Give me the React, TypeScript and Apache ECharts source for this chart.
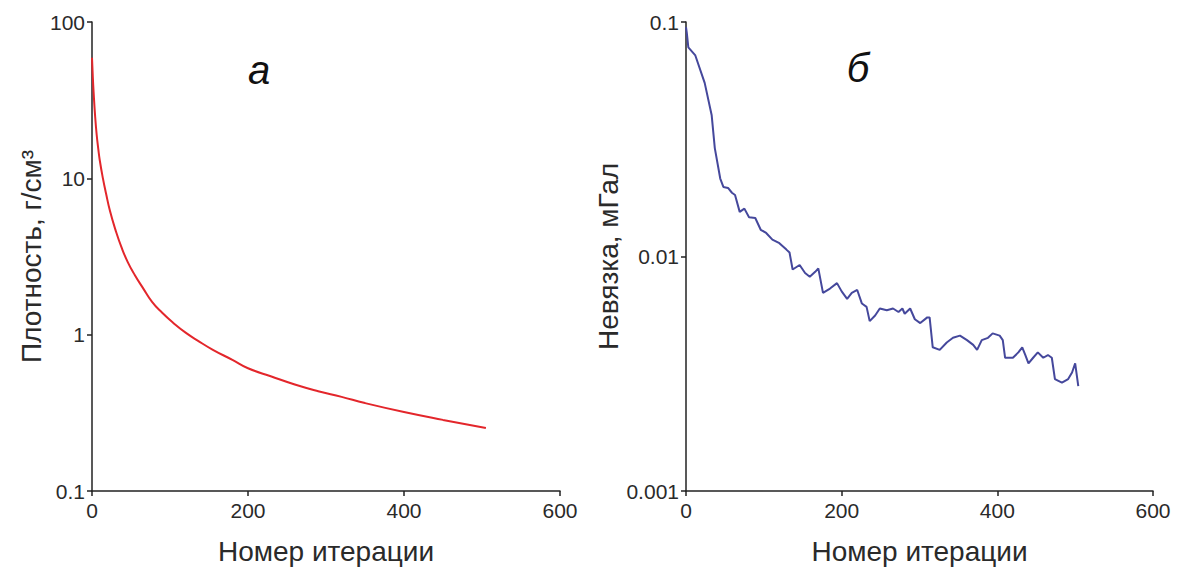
import React, { useEffect, useRef } from "react";
import * as echarts from "echarts";

// Panel а: density vs iteration
const densityIter = [0, 1, 2, 4, 6, 8, 10, 14, 18, 23, 30, 38, 46, 55, 65, 77, 90, 105, 120, 135, 155, 180, 200, 230, 260, 290, 320, 350, 400, 450, 505];
const densityValues = [59, 45, 36, 25, 19, 15.5, 13, 10, 8.0, 6.2, 4.7, 3.6, 2.9, 2.4, 2.0, 1.62, 1.38, 1.18, 1.03, 0.92, 0.8, 0.69, 0.61, 0.54, 0.48, 0.435, 0.4, 0.365, 0.32, 0.285, 0.253];

// Panel б: misfit vs iteration
const misfitIter = [
  0, 1, 3, 12, 24, 33, 37, 44, 48, 54, 59, 63, 69, 75, 81, 89, 96, 103, 111, 120, 129, 133, 137, 146, 153, 159,
  166, 170, 176, 185, 194, 200, 207, 213, 220, 226, 232, 236, 243, 249, 258, 266, 273, 278, 281, 288, 294, 301,
  310, 313, 317, 326, 335, 343, 352, 361, 369, 374, 380, 388, 394, 403, 407, 410, 420, 427, 432, 436, 440, 446,
  452, 459, 465, 470, 474, 483, 491, 496, 500, 504,
];
const misfitValues = [
  0.095, 0.09, 0.078, 0.072, 0.055, 0.04, 0.029, 0.0215, 0.0198, 0.0196, 0.0187, 0.0183, 0.0155, 0.016, 0.0147,
  0.0146, 0.013, 0.0126, 0.0118, 0.0114, 0.0107, 0.0104, 0.0088, 0.0092, 0.0085, 0.0082, 0.0086, 0.0089, 0.007,
  0.0073, 0.0077, 0.0071, 0.0066, 0.007, 0.0072, 0.0063, 0.0061, 0.0053, 0.0056, 0.006, 0.0059, 0.006, 0.0058,
  0.006, 0.0057, 0.006, 0.0054, 0.0052, 0.0055, 0.0055, 0.0041, 0.004, 0.0043, 0.0045, 0.0046, 0.0044, 0.0042,
  0.004, 0.0044, 0.0045, 0.0047, 0.0046, 0.0044, 0.0037, 0.0037, 0.0039, 0.0041, 0.0038, 0.0035, 0.0037, 0.0039,
  0.0037, 0.0038, 0.0037, 0.003, 0.0029, 0.003, 0.0032, 0.0035, 0.0028,
];

const xTicks = { min: 0, max: 600, interval: 200 };
const panelLabels = ["а", "б"];
const yNames = ["Плотность, г/см³", "Невязка, мГал"];
const xName = "Номер итерации";

const FONT = "'Liberation Sans', Arial, sans-serif";
const AXIS_COLOR = "#222";
const LABEL_COLOR = "#2a2a2a";
const NAME_SIZE = 28;
const TICK_SIZE = 21;

function fmt(v: number) {
  return String(Number(v.toPrecision(3)));
}

export default function App() {
  const ref = useRef<HTMLDivElement>(null);
  useEffect(() => {
    if (!ref.current) return;
    const chart = echarts.init(ref.current, undefined, { renderer: "svg" });
    const xAxisBase = (gridIndex: number) => ({
      type: "value" as const,
      gridIndex,
      min: xTicks.min,
      max: xTicks.max,
      interval: xTicks.interval,
      name: xName,
      nameLocation: "middle" as const,
      nameGap: 46,
      nameTextStyle: { fontFamily: FONT, fontSize: NAME_SIZE, color: LABEL_COLOR },
      axisLine: { show: true, onZero: false, lineStyle: { color: AXIS_COLOR, width: 1.5 } },
      axisTick: { show: true, length: 5, lineStyle: { color: AXIS_COLOR, width: 1.5 } },
      axisLabel: { fontFamily: FONT, fontSize: TICK_SIZE, color: LABEL_COLOR, margin: 9 },
      splitLine: { show: false },
    });
    const yAxisBase = (gridIndex: number, min: number, max: number, name: string, gap: number) => ({
      type: "log" as const,
      logBase: 10,
      gridIndex,
      min,
      max,
      name,
      nameLocation: "middle" as const,
      nameGap: gap,
      nameTextStyle: { fontFamily: FONT, fontSize: NAME_SIZE, color: LABEL_COLOR },
      axisLine: { show: true, lineStyle: { color: AXIS_COLOR, width: 1.5 } },
      axisTick: { show: true, length: 5, lineStyle: { color: AXIS_COLOR, width: 1.5 } },
      axisLabel: { fontFamily: FONT, fontSize: TICK_SIZE, color: LABEL_COLOR, margin: 7, formatter: (v: number) => fmt(v) },
      splitLine: { show: false },
      minorTick: { show: false },
    });
    chart.setOption({
      animation: false,
      backgroundColor: "#ffffff",
      grid: [
        { left: 92, top: 22, width: 468, height: 469 },
        { left: 686, top: 22, width: 467, height: 469 },
      ],
      xAxis: [xAxisBase(0), xAxisBase(1)],
      yAxis: [
        yAxisBase(0, 0.1, 100, yNames[0], 47),
        yAxisBase(1, 0.001, 0.1, yNames[1], 59),
      ],
      graphic: [
        {
          type: "text",
          x: 259,
          y: 70,
          style: {
            text: panelLabels[0],
            font: `italic 40px ${FONT}`,
            fill: "#111",
            textAlign: "center",
            textVerticalAlign: "middle",
          },
        },
        {
          type: "text",
          x: 858,
          y: 68,
          style: {
            text: panelLabels[1],
            font: `italic 40px ${FONT}`,
            fill: "#111",
            textAlign: "center",
            textVerticalAlign: "middle",
          },
        },
      ],
      series: [
        {
          type: "line",
          xAxisIndex: 0,
          yAxisIndex: 0,
          data: densityIter.map((x, i) => [x, densityValues[i]]),
          showSymbol: false,
          smooth: 0.5,
          lineStyle: { color: "#e3262b", width: 2 },
        },
        {
          type: "line",
          xAxisIndex: 1,
          yAxisIndex: 1,
          data: misfitIter.map((x, i) => [x, misfitValues[i]]),
          showSymbol: false,
          lineStyle: { color: "#45489c", width: 2 },
        },
      ],
    });
    return () => chart.dispose();
  }, []);
  return (
    <div
      ref={ref}
      style={{ position: "absolute", left: 0, top: 0, width: 1183, height: 571, background: "#fff" }}
    />
  );
}
